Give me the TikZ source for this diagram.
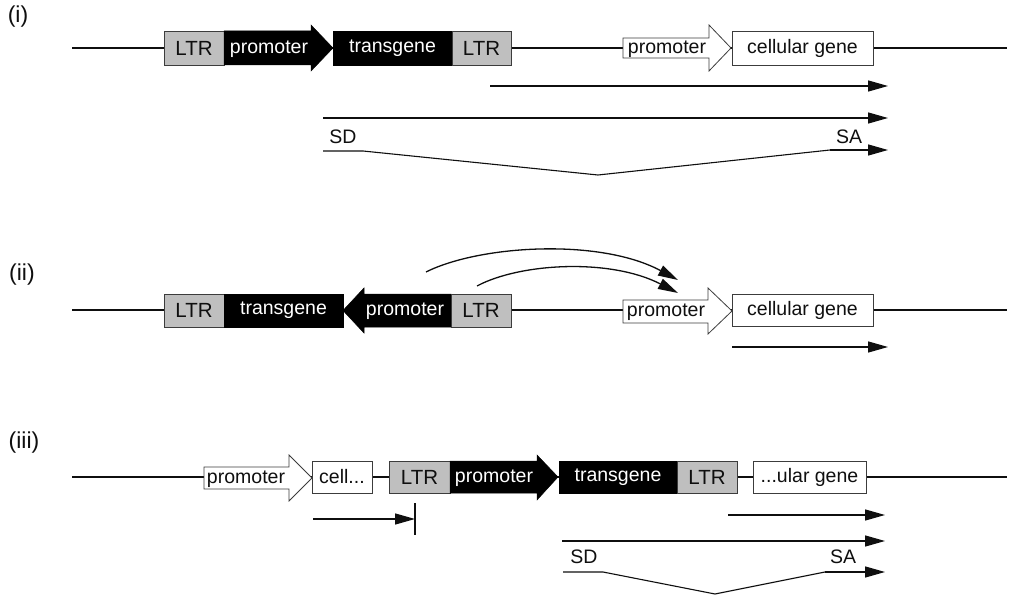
\documentclass[tikz,border=0pt]{standalone}
\usepackage{fontspec}
\setmainfont{Liberation Sans}
\usetikzlibrary{arrows.meta}
\definecolor{ltrgray}{RGB}{191,191,191}
\definecolor{edge}{RGB}{60,60,60}
\definecolor{ink}{RGB}{15,15,15}
\begin{document}
\begin{tikzpicture}[x=1bp,y=-1bp,
  every node/.style={font=\fontsize{19.5bp}{22bp}\selectfont, inner sep=0pt, text=ink},
  dna/.style={line width=2bp, draw=ink},
  box/.style={draw=edge, line width=0.8bp, rectangle},
  ltr/.style={box, fill=ltrgray, minimum width=60bp, minimum height=34bp, font=\fontsize{20.5bp}{23bp}\selectfont},
  gene/.style={box, fill=white, minimum height=34bp},
  blk/.style={fill=black, draw=black, line width=0.5bp, minimum height=34bp, text=white},
  blkarrow/.style={fill=black, draw=black, line width=0.5bp},
  whtarrow/.style={fill=white, draw=edge, line width=0.8bp},
  wtext/.style={text=white},
  tx/.style={line width=1.3bp, draw=ink, -{Triangle[length=20bp,width=11bp]}},
  spl/.style={line width=1.1bp, draw=ink},
  lbl/.style={font=\fontsize{23bp}{25bp}\selectfont},
]
\useasboundingbox (0,0) rectangle (1024,603);

% ---------- labels ----------
\node[lbl] (labI) at (18,17) {(i)};
\node[lbl] (labII) at (22,275) {(ii)};
\node[lbl] (labIII) at (24,443) {(iii)};

% ---------- row (i) ----------
\coordinate (dnaIa) at (72,48);
\coordinate (dnaIb) at (1007,48);
\draw[dna] (dnaIa) -- (dnaIb);
\node[ltr] (ltrIa) at (194,48) {LTR};
\path[blkarrow] (224,31) -- (311,31) -- (311,25) -- (333,48) -- (311,71) -- (311,65) -- (224,65) -- cycle;
\node[wtext] (proIa) at (269,49) {promoter};
\node[blk, minimum width=119bp] (tgI) at (392.5,48) {transgene};
\node[ltr, minimum width=59bp] (ltrIb) at (481.5,48) {LTR};
\path[whtarrow] (623,38) -- (709,38) -- (709,25) -- (731,48) -- (709,71) -- (709,58) -- (623,58) -- cycle;
\node (proIb) at (667,49) {promoter};
\node[gene, minimum width=141bp] (cgI) at (802.5,48) {cellular gene};

\coordinate (t1s) at (490,86);   \coordinate (t1e) at (888,86);
\draw[tx] (t1s) -- (t1e);
\coordinate (t2s) at (323,118);  \coordinate (t2e) at (888,118);
\draw[tx] (t2s) -- (t2e);
\node (sdI) at (343,137) {SD};
\node (saI) at (849,137) {SA};
\coordinate (s1a) at (323,151); \coordinate (s1b) at (363,151);
\coordinate (s1c) at (598,175); \coordinate (s1d) at (830,150);
\coordinate (s1e) at (888,150);
\draw[spl] (s1a) -- (s1b) -- (s1c) -- (s1d);
\draw[tx] (s1d) -- (s1e);

% ---------- row (ii) ----------
\coordinate (dnaIIa) at (72,310);
\coordinate (dnaIIb) at (1007,310);
\draw[dna] (dnaIIa) -- (dnaIIb);
\node[ltr, minimum height=33bp] (ltrIIa) at (194,310.5) {LTR};
\node[blk, minimum width=119bp, minimum height=33bp] (tgII) at (283.5,310.5) {transgene};
\path[blkarrow] (451,294) -- (364,294) -- (364,288) -- (343,310.5) -- (364,333) -- (364,327) -- (451,327) -- cycle;
\node[wtext] (proIIa) at (405,311.5) {promoter};
\node[ltr, minimum height=33bp] (ltrIIb) at (481,310.5) {LTR};
\path[whtarrow] (623,300) -- (708,300) -- (708,288) -- (732,311) -- (708,334) -- (708,323) -- (623,323) -- cycle;
\node (proIIb) at (666,312) {promoter};
\node[gene, minimum width=141bp, minimum height=32bp] (cgII) at (802.5,310) {cellular gene};

\coordinate (c1s) at (426,272); \coordinate (c1e) at (678,280);
\draw[tx] (c1s) .. controls (480,245) and (600,238) .. (c1e);
\coordinate (c2s) at (477,286); \coordinate (c2e) at (678,293);
\draw[tx] (c2s) .. controls (520,263) and (610,258) .. (c2e);
\coordinate (t3s) at (732,347); \coordinate (t3e) at (888,347);
\draw[tx] (t3s) -- (t3e);

% ---------- row (iii) ----------
\coordinate (dnaIIIa) at (72,477);
\coordinate (dnaIIIb) at (1007,477);
\draw[dna] (dnaIIIa) -- (dnaIIIb);
\path[whtarrow] (204,467) -- (289,467) -- (289,455) -- (312,478) -- (289,501) -- (289,489) -- (204,489) -- cycle;
\node (proIIIa) at (246,479) {promoter};
\node[gene, minimum width=60bp, minimum height=32bp] (cellIII) at (342,477) {cell...};
\node[ltr, minimum width=61bp, minimum height=32bp] (ltrIIIa) at (419.5,477) {LTR};
\path[blkarrow] (450,461) -- (537,461) -- (537,455) -- (558,477) -- (537,500) -- (537,493) -- (450,493) -- cycle;
\node[wtext] (proIIIb) at (494,478) {promoter};
\node[blk, minimum width=118bp, minimum height=32bp] (tgIII) at (618,477) {transgene};
\node[ltr, minimum width=60bp, minimum height=32bp] (ltrIIIb) at (707,477) {LTR};
\node[gene, minimum width=113bp, minimum height=32bp] (ulIII) at (809.5,477) {...ular gene};

\coordinate (t4s) at (313,519); \coordinate (t4e) at (415,519);
\draw[tx] (t4s) -- (t4e);
\coordinate (tk1) at (415,503); \coordinate (tk2) at (415,535);
\draw[line width=1.1bp, draw=ink] (tk1) -- (tk2);
\coordinate (t5s) at (728,515); \coordinate (t5e) at (885,515);
\draw[tx] (t5s) -- (t5e);
\coordinate (t6s) at (562,541); \coordinate (t6e) at (885,541);
\draw[tx] (t6s) -- (t6e);
\node (sdIII) at (584,557) {SD};
\node (saIII) at (843,557) {SA};
\coordinate (s2a) at (563,572); \coordinate (s2b) at (603,572);
\coordinate (s2c) at (715,594); \coordinate (s2d) at (825,572);
\coordinate (s2e) at (885,572);
\draw[spl] (s2a) -- (s2b) -- (s2c) -- (s2d);
\draw[tx] (s2d) -- (s2e);
\end{tikzpicture}
\end{document}
